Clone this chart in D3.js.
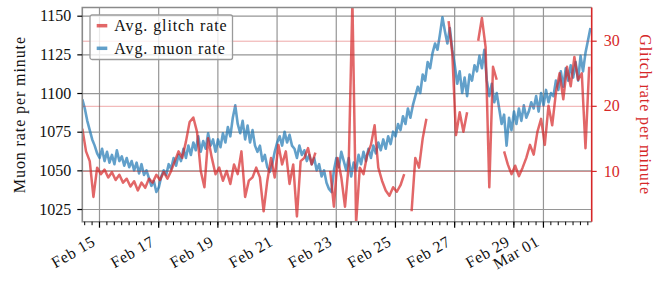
<!DOCTYPE html>
<html>
<head>
<meta charset="utf-8">
<script src="https://cdn.jsdelivr.net/npm/d3@7"></script>
<style>
  body { margin: 0; background: #fff; }
</style>
</head>
<body>
<div id="chart"></div>
<script>
var serif = '"Liberation Serif", "Times New Roman", serif';

// muon samples every 2 hours, starting Feb 14 10:30 UTC
var muonStart = Date.UTC(2024, 1, 14, 10, 30);
var muonStepHours = 2;
// Avg. muon rate per minute (left axis)
var muonRate = [
  1096,1090,1082,1076,1070,1066,1061,1058,
  1064,1056,1062,1055,1060,1054,1063,1056,1059,1053,1058,1052,
  1056,1050,1055,1048,1054,1047,1050,
  1045,1040,1043,1036,1039,
  1046,1050,1047,1054,1051,1058,1053,1060,
  1056,1064,1058,1066,1060,1068,1063,1072,1062,1069,1064,1074,1066,1070,
  1062,1070,1065,1074,1068,1078,1072,
  1084,1092,1080,
  1074,1082,1070,1079,1068,1076,1066,
  1062,1066,1056,1060,1052,1049,1054,
  1062,1068,1072,1066,1075,1068,1073,1066,
  1064,1058,1066,1060,1063,1056,1060,
  1054,1058,1050,1054,1046,1050,1042,1038,1036,
  1050,1058,1052,1062,1056,
  1050,1058,1046,1055,1050,1060,
  1054,1062,1056,1064,1058,1066,1061,1068,1063,1070,1064,1072,1067,1075,
  1072,1080,1076,1085,1080,1090,1084,1092,
  1098,1104,1100,1112,1108,1120,1116,
  1126,1132,1128,1138,
  1149,
  1140,1132,1142,1128,
  1118,1106,1114,1100,1110,1098,1112,
  1108,1118,1114,1124,1116,1128,
  1108,1098,1106,1094,1100,
  1090,1080,1086,1066,
  1084,1076,1088,1080,1090,1082,1092,1084,1088,1094,
  1090,1098,1088,1100,1092,1102,1094,1100,
  1098,1108,1102,1114,1104,1116,1108,1118,1110,
  1120,1108,1124,1114,1126,
  1134,1142
];

// glitch samples every 3 hours, starting Feb 14 10:30 UTC
var glitchStart = Date.UTC(2024, 1, 14, 10, 30);
var glitchStepHours = 3;
// Avg. glitch rate per minute (right axis), null = no data
var glitchRate = [
  16.5,13,11.5,6,10.5,9.5,10.2,9,9.8,8.6,
  9.4,8.2,8.8,7.6,8.4,7,8.2,7.4,8.8,8.2,
  9.4,8.6,9.8,8.8,10,11.5,13,12,14.5,17.5,
  18.2,16,10,7.5,15,12,9.5,10.5,8.5,10,
  8,11,9.5,13,6,8.5,9,10.5,9,3.8,
  8.5,12,9,14,11,13,8,11,3,11.5,
  12,13.5,11,12.8,null,null,null,10,4.5,12,
  9,4.5,11,36,2,10.5,9.5,12.5,14,17,
  10.5,8.5,7,6.2,7.5,6.8,7.8,9.5,null,3.8,
  12,10.5,15,18,null,null,null,null,null,33,
  28,15.5,19,16,19,null,null,30,33.5,29,
  7.5,26,24,null,13,11,9.5,10.8,9.2,10.5,
  12,14,12.5,16,18,14,20,17,22,25,
  21,26,23,27.5,24,25,13.5,26
];

var dateTicks = ["2024-02-15","2024-02-17","2024-02-19","2024-02-21","2024-02-23",
                 "2024-02-25","2024-02-27","2024-02-29","2024-03-01"];
var muonTicks = [1025, 1050, 1075, 1100, 1125, 1150];
var glitchTicks = [10, 20, 30];

var width = 665, height = 288;
var margin = {top: 7.5, right: 73.3, bottom: 66.3, left: 82.3};
var innerW = width - margin.left - margin.right,
    innerH = height - margin.top - margin.bottom;

var blue = "#1f77b4", red = "#d62728";

var svg = d3.select("#chart").append("svg")
    .attr("width", width)
    .attr("height", height)
    .attr("font-family", serif);

var g = svg.append("g")
    .attr("transform", "translate(" + margin.left + "," + margin.top + ")");

var muonData = muonRate.map(function(v, i) {
  return { t: new Date(muonStart + i * muonStepHours * 3600e3), v: v };
});
var glitchData = glitchRate.map(function(v, i) {
  return { t: new Date(glitchStart + i * glitchStepHours * 3600e3), v: v };
});

var x = d3.scaleUtc()
    .domain([new Date(Date.UTC(2024, 1, 14, 10, 28)), new Date(Date.UTC(2024, 2, 2, 15, 32))])
    .range([0, innerW]);
var yMuon = d3.scaleLinear().domain([1016.8, 1155.3]).range([innerH, 0]);
var yGlitch = d3.scaleLinear().domain([2.2, 35.1]).range([innerH, 0]);

var majorDates = dateTicks.map(function(s) { return new Date(s + "T00:00:00Z"); });

g.append("clipPath").attr("id", "clip")
  .append("rect").attr("width", innerW).attr("height", innerH);

// grey grid (muon axis + dates)
g.append("g")
    .call(d3.axisLeft(yMuon).tickValues(muonTicks).tickSize(-innerW).tickFormat(""))
    .call(function(s) { s.select(".domain").remove(); })
    .selectAll("line").attr("stroke", "#969696").attr("stroke-width", 1.2);

g.append("g")
    .attr("transform", "translate(0," + innerH + ")")
    .call(d3.axisBottom(x).tickValues(majorDates).tickSize(-innerH).tickFormat(""))
    .call(function(s) { s.select(".domain").remove(); })
    .selectAll("line").attr("stroke", "#969696").attr("stroke-width", 1.2);

// muon line
g.append("path")
    .datum(muonData)
    .attr("clip-path", "url(#clip)")
    .attr("fill", "none")
    .attr("stroke", blue)
    .attr("stroke-opacity", 0.7)
    .attr("stroke-width", 2.6)
    .attr("stroke-linejoin", "round")
    .attr("d", d3.line().x(function(d) { return x(d.t); }).y(function(d) { return yMuon(d.v); }));

// red grid (glitch axis)
g.append("g")
    .call(d3.axisLeft(yGlitch).tickValues(glitchTicks).tickSize(-innerW).tickFormat(""))
    .call(function(s) { s.select(".domain").remove(); })
    .selectAll("line").attr("stroke", red).attr("stroke-opacity", 0.4).attr("stroke-width", 1);

// glitch line
g.append("path")
    .datum(glitchData)
    .attr("clip-path", "url(#clip)")
    .attr("fill", "none")
    .attr("stroke", red)
    .attr("stroke-opacity", 0.7)
    .attr("stroke-width", 2.5)
    .attr("stroke-linejoin", "round")
    .attr("d", d3.line()
      .defined(function(d) { return d.v != null; })
      .x(function(d) { return x(d.t); })
      .y(function(d) { return yGlitch(d.v); }));

// spines
g.append("path")
    .attr("d", "M" + innerW + ",0H0V" + innerH + "H" + innerW)
    .attr("fill", "none").attr("stroke", "#8a8a8a").attr("stroke-width", 1.6);
g.append("line")
    .attr("x1", innerW).attr("x2", innerW).attr("y1", 0).attr("y2", innerH)
    .attr("stroke", red).attr("stroke-width", 1.6);

// left axis
var leftAxis = g.append("g")
    .call(d3.axisLeft(yMuon).tickValues(muonTicks).tickSize(5).tickPadding(6).tickFormat(d3.format("d")))
    .attr("font-family", serif);
leftAxis.select(".domain").remove();
leftAxis.selectAll("line").attr("stroke", "#000").attr("stroke-width", 1.2);
leftAxis.selectAll("text").attr("font-family", serif).attr("font-size", "16px").attr("fill", "#111");

// right axis
var rightAxis = g.append("g")
    .attr("transform", "translate(" + innerW + ",0)")
    .call(d3.axisRight(yGlitch).tickValues(glitchTicks).tickSize(5).tickPadding(7).tickFormat(d3.format("d")))
    .attr("font-family", serif);
rightAxis.select(".domain").remove();
rightAxis.selectAll("line").attr("stroke", red).attr("stroke-width", 1.2);
rightAxis.selectAll("text").attr("font-family", serif).attr("font-size", "16px").attr("fill", red);

// bottom axis: minor + major ticks
var minorAxis = g.append("g")
    .attr("transform", "translate(0," + innerH + ")")
    .call(d3.axisBottom(x).ticks(d3.utcHour.every(6)).tickSize(3.5).tickFormat(""));
minorAxis.select(".domain").remove();
minorAxis.selectAll("line").attr("stroke", "#000").attr("stroke-width", 1);

var bottomAxis = g.append("g")
    .attr("transform", "translate(0," + innerH + ")")
    .call(d3.axisBottom(x).tickValues(majorDates).tickSize(6).tickFormat(d3.utcFormat("%b %d")))
    .attr("font-family", serif);
bottomAxis.select(".domain").remove();
bottomAxis.selectAll("line").attr("stroke", "#000").attr("stroke-width", 1.2);
bottomAxis.selectAll("text")
    .attr("font-family", serif)
    .attr("font-size", "16px")
    .attr("fill", "#111")
    .attr("letter-spacing", "0.6px")
    .attr("text-anchor", "end")
    .attr("x", 0).attr("y", 0).attr("dy", null)
    .attr("transform", "translate(-3,23) rotate(-30)");

// axis titles
svg.append("text")
    .attr("transform", "translate(25," + (margin.top + innerH / 2) + ") rotate(-90)")
    .attr("text-anchor", "middle")
    .attr("font-size", "16px")
    .attr("letter-spacing", "0.9px")
    .attr("fill", "#111")
    .text("Muon rate per minute");

svg.append("text")
    .attr("transform", "translate(640," + (margin.top + innerH / 2) + ") rotate(90)")
    .attr("text-anchor", "middle")
    .attr("font-size", "16px")
    .attr("letter-spacing", "0.9px")
    .attr("fill", red)
    .text("Glitch rate per minute");

// legend
var legend = svg.append("g").attr("transform", "translate(90,15)");
legend.append("rect")
    .attr("width", 142.5).attr("height", 44.5).attr("rx", 2)
    .attr("fill", "#fff").attr("fill-opacity", 0.8)
    .attr("stroke", "#9a9a9a").attr("stroke-width", 1.3);

var legendItems = [
  {label: "Avg. glitch rate", color: red},
  {label: "Avg. muon rate", color: blue}
];
legendItems.forEach(function(item, i) {
  var row = legend.append("g").attr("transform", "translate(0," + (10.7 + i * 22.6) + ")");
  row.append("line")
      .attr("x1", 6.7).attr("x2", 17.3)
      .attr("stroke", item.color).attr("stroke-opacity", 0.7).attr("stroke-width", 3.5);
  row.append("text")
      .attr("x", 24.3).attr("y", 5.5)
      .attr("font-size", "16px")
      .attr("letter-spacing", "0.9px")
      .attr("fill", "#111")
      .text(item.label);
});
</script>
</body>
</html>
